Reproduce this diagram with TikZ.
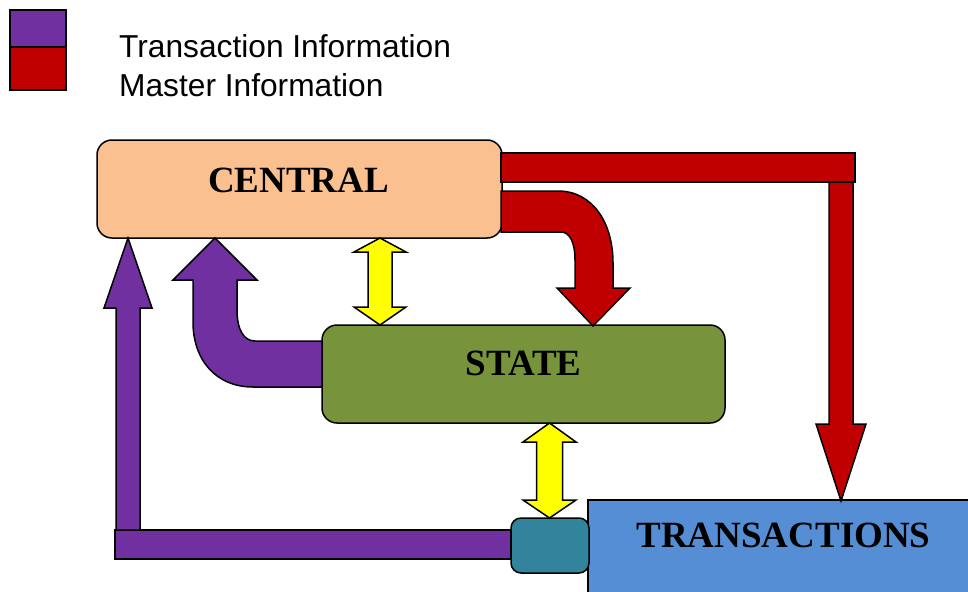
\documentclass[tikz,border=0pt]{standalone}
\usepackage{fontspec}
\setmainfont{Liberation Serif}
\newfontfamily\legendfont{Liberation Sans}
\definecolor{peach}{HTML}{FAC090}
\definecolor{stategreen}{HTML}{77933C}
\definecolor{transblue}{HTML}{558ED5}
\definecolor{tealbox}{HTML}{31849B}
\definecolor{infopurple}{HTML}{7030A0}
\definecolor{infored}{HTML}{C00000}
\definecolor{infoyellow}{HTML}{FFFF00}
\tikzset{
  outl/.style={draw=black, line width=1.5pt},
  boxlabel/.style={font=\fontsize{37}{44}\selectfont\bfseries, inner sep=0pt, anchor=base},
  legendtext/.style={font=\legendfont\fontsize{31.7}{38}\selectfont, inner sep=0pt, anchor=base west},
  fatpurple/.style={outl, fill=infopurple},
  fatred/.style={outl, fill=infored},
  fatyellow/.style={outl, fill=infoyellow},
}
\begin{document}
\begin{tikzpicture}[x=1pt, y=-1pt]
\useasboundingbox (0,0) rectangle (968,591);

% legend
\draw[outl, fill=infopurple] (10,10) rectangle (66,47);
\draw[outl, fill=infored] (10,47) rectangle (66,90);
\node[legendtext] (leg1) at (119,58) {Transaction Information};
\node[legendtext] (leg2) at (119,97) {Master Information};

% boxes
\node[outl, fill=peach, rounded corners=15pt, minimum width=405pt, minimum height=98pt, inner sep=0pt] (central) at (299.5,189) {};
\node[boxlabel] (centralt) at (298.5,192) {CENTRAL};

\node[outl, fill=stategreen, rounded corners=15pt, minimum width=403pt, minimum height=98pt, inner sep=0pt] (state) at (523.5,374) {};
\node[boxlabel] (statet) at (523.5,375) {STATE};

\draw[outl, fill=transblue] (588,500) rectangle (980,600);
\node[boxlabel] (transt) at (783.5,547) {TRANSACTIONS};

% purple horizontal bar and up arrow
\draw[fatpurple] (115,530) rectangle (511,559);
\draw[fatpurple] (116,530) -- (116,308) -- (104,308) -- (128,238) -- (152,308) -- (140,308) -- (140,530) -- cycle;

\node[outl, fill=tealbox, rounded corners=10pt, minimum width=78pt, minimum height=55pt, inner sep=0pt] (teal) at (550,545.5) {};

% purple curved arrow from STATE to CENTRAL
\draw[fatpurple] (322,341) -- (255,341)
  .. controls (244,341) and (237,330) .. (237,310)
  -- (237,280) -- (257,280) -- (215,238) -- (173,280) -- (193,280) -- (193,322)
  .. controls (193,360) and (216,387) .. (253,387)
  -- (322,387) -- cycle;

% red curved arrow from CENTRAL to STATE
\draw[fatred] (501,191) -- (558,191)
  .. controls (592,191) and (613,222) .. (613,263)
  -- (613,288) -- (630,288) -- (593,326) -- (557,288) -- (575,288) -- (575,260)
  .. controls (575,243) and (570,232) .. (561,232)
  -- (501,232) -- cycle;

% red bar and down arrow to TRANSACTIONS
\draw[fatred] (501,153) rectangle (855,182);
\draw[fatred] (829,182) -- (829,424) -- (816,424) -- (841,501) -- (866,424) -- (853,424) -- (853,182) -- cycle;

% yellow double arrows
\draw[fatyellow] (380,238) -- (406,252) -- (392,252) -- (392,307) -- (406,307) -- (380,325)
  -- (354,307) -- (368,307) -- (368,252) -- (354,252) -- cycle;
\draw[fatyellow] (549.5,423) -- (576,442) -- (562.5,442) -- (562.5,500) -- (576,500) -- (549.5,518)
  -- (523,500) -- (536.5,500) -- (536.5,442) -- (523,442) -- cycle;
\end{tikzpicture}
\end{document}
